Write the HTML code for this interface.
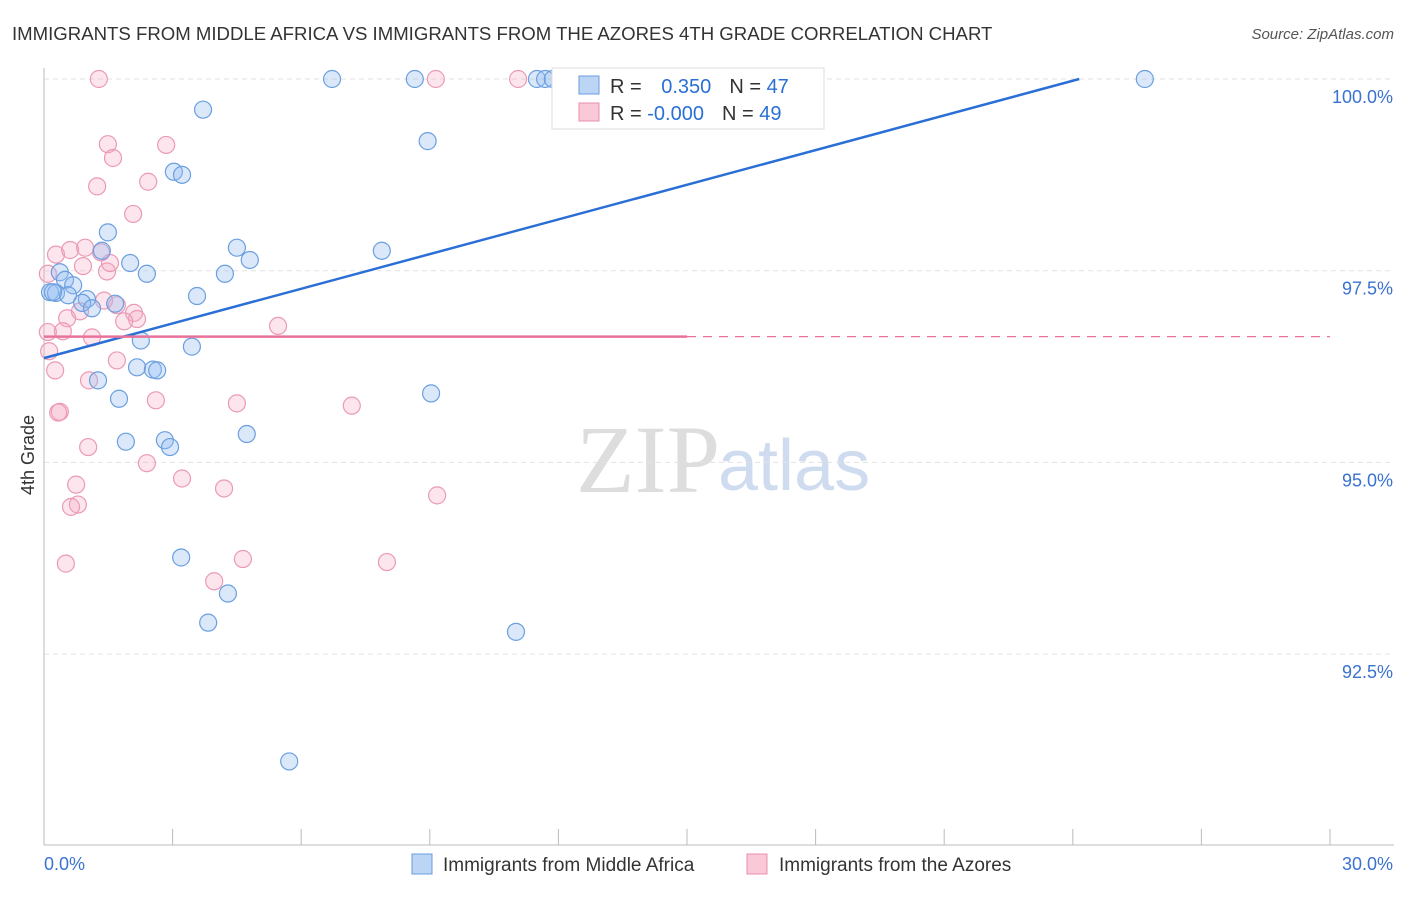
<!DOCTYPE html>
<html><head><meta charset="utf-8"><style>
body{margin:0;background:#fff;font-family:"Liberation Sans",sans-serif}
</style></head><body>
<svg width="1406" height="892" xmlns="http://www.w3.org/2000/svg">
<text x="12" y="40" font-size="18.6" fill="#333">IMMIGRANTS FROM MIDDLE AFRICA VS IMMIGRANTS FROM THE AZORES 4TH GRADE CORRELATION CHART</text>
<text x="1394" y="39" font-size="15" fill="#555" font-style="italic" text-anchor="end">Source: ZipAtlas.com</text>
<text x="720" y="492" font-size="96" fill="#ddd" text-anchor="end" font-family="Liberation Serif,serif">ZIP</text>
<text x="718" y="490" font-size="72" fill="#cfdcef">atlas</text>
<g id="grid"></g>
<g id="axes"></g>
<g id="marks"></g>
<text transform="translate(34,455) rotate(-90)" font-size="18" fill="#333" text-anchor="middle">4th Grade</text>
<g>
<rect x="552" y="68" width="272" height="61" fill="#fff" stroke="#ddd"/>
<rect x="579" y="76" width="20" height="18" fill="#bcd5f5" stroke="#6a9de0"/>
<rect x="579" y="103" width="20" height="18" fill="#f9c9d8" stroke="#e990ad"/>
<text x="610" y="93" font-size="20" fill="#333">R = <tspan fill="#2a6fd6" dx="14">0.350</tspan><tspan dx="18" fill="#333">N = </tspan><tspan fill="#2a6fd6">47</tspan></text>
<text x="610" y="120" font-size="20" fill="#333">R = <tspan fill="#2a6fd6">-0.000</tspan><tspan dx="18" fill="#333">N = </tspan><tspan fill="#2a6fd6">49</tspan></text>
</g>
<g>
<rect x="412" y="854" width="20" height="20" fill="#bcd5f5" stroke="#6a9de0"/>
<text x="443" y="871" font-size="19" fill="#333">Immigrants from Middle Africa</text>
<rect x="747" y="854" width="20" height="20" fill="#f9c9d8" stroke="#e990ad"/>
<text x="779" y="871" font-size="19" fill="#333">Immigrants from the Azores</text>
</g>
</svg>
<script>
const blueX=[6.72,8.65,11.5,11.69,11.87,25.68,3.71,8.95,3.03,3.22,1.49,4.5,7.88,1.35,2.01,4.8,2.4,4.22,0.37,0.49,0.68,0.14,0.28,0.56,1.0,3.57,0.89,1.66,1.12,2.26,3.45,2.17,2.54,2.64,1.26,9.03,1.75,4.73,1.91,2.82,2.94,3.2,4.29,3.83,11.01,5.72,0.21];
const blueY=[100,100,100,100,100,100,99.6,99.19,98.79,98.75,98.0,97.8,97.76,97.76,97.6,97.64,97.46,97.46,97.48,97.38,97.31,97.22,97.21,97.18,97.13,97.17,97.08,97.07,97.01,96.59,96.51,96.24,96.21,96.2,96.07,95.9,95.83,95.37,95.27,95.29,95.2,93.76,93.29,92.91,92.79,91.1,97.22];
const pinkX=[1.28,9.14,11.06,1.49,2.85,1.61,1.24,2.43,2.08,0.28,0.61,0.96,1.33,0.91,1.47,1.54,0.09,1.4,1.7,2.1,2.17,1.87,5.46,0.54,0.84,0.44,1.12,0.09,0.12,0.26,1.7,1.05,0.37,0.33,2.61,4.5,7.18,1.03,2.4,3.22,0.75,4.2,9.17,0.79,0.63,4.64,0.51,3.97,8.0];
const pinkY=[100,100,100,99.15,99.14,98.97,98.6,98.66,98.24,97.71,97.77,97.8,97.74,97.56,97.49,97.6,97.46,97.11,97.05,96.95,96.87,96.84,96.78,96.88,96.97,96.71,96.63,96.7,96.45,96.2,96.33,96.07,95.66,95.65,95.81,95.77,95.74,95.2,94.99,94.79,94.71,94.66,94.57,94.45,94.42,93.74,93.68,93.45,93.7];
const yTicks=[100,97.5,95,92.5];
const yTickLabels=["100.0%","97.5%","95.0%","92.5%"];
const blueTrend=[0,96.36,24.15,100];
const pinkMean=96.64;
const ns="http://www.w3.org/2000/svg";
const X=v=>44+v/30*1286, Y=v=>79+(100-v)/2.5*191.7;
function mk(t,a,p){const e=document.createElementNS(ns,t);for(const k in a)e.setAttribute(k,a[k]);document.getElementById(p).appendChild(e);return e;}
yTicks.forEach((t,i)=>{
 const g=mk('line',{x1:44,x2:1394,y1:Y(t),y2:Y(t),stroke:'#e2e2e2','stroke-dasharray':'5,4'},'grid');
 
 
 const l=mk('text',{x:1393,y:Y(t)+24,'font-size':18,fill:'#3a72d0','text-anchor':'end'},'axes');
 l.textContent=yTickLabels[i];
 
 
});
mk('line',{x1:44,x2:44,y1:68,y2:845,stroke:'#bbb'},'axes');
mk('line',{x1:44,x2:1394,y1:845,y2:845,stroke:'#bbb'},'axes');
for(let i=0;i<=10;i++){const x=44+i*128.6;mk('line',{x1:x,x2:x,y1:829,y2:845,stroke:'#bbb'},'axes');}
let t=mk('text',{x:44,y:870,'font-size':18,fill:'#3a72d0'},'axes');t.textContent='0.0%';


t=mk('text',{x:1393,y:870,'font-size':18,fill:'#3a72d0','text-anchor':'end'},'axes');t.textContent='30.0%';


pinkX.forEach((v,i)=>{const c=mk('circle',{cx:X(v),cy:Y(pinkY[i]),r:8.5,fill:'rgba(246,170,195,0.3)',stroke:'#eb9ab5','stroke-width':1.2},'marks');

});
blueX.forEach((v,i)=>{const c=mk('circle',{cx:X(v),cy:Y(blueY[i]),r:8.5,fill:'rgba(150,190,240,0.35)',stroke:'#6b9fe0','stroke-width':1.2},'marks');

});
let ln=mk('line',{x1:X(blueTrend[0]),y1:Y(blueTrend[1]),x2:X(blueTrend[2]),y2:Y(blueTrend[3]),stroke:'#2a6fd6','stroke-width':2.5},'marks');


ln=mk('line',{x1:X(0),y1:Y(pinkMean),x2:X(15),y2:Y(pinkMean),stroke:'#e8739a','stroke-width':2.5},'marks');


ln=mk('line',{x1:X(15),y1:Y(pinkMean),x2:X(30),y2:Y(pinkMean),stroke:'#e8739a','stroke-width':1.2,'stroke-dasharray':'9,7'},'marks');


</script>
</body></html>
